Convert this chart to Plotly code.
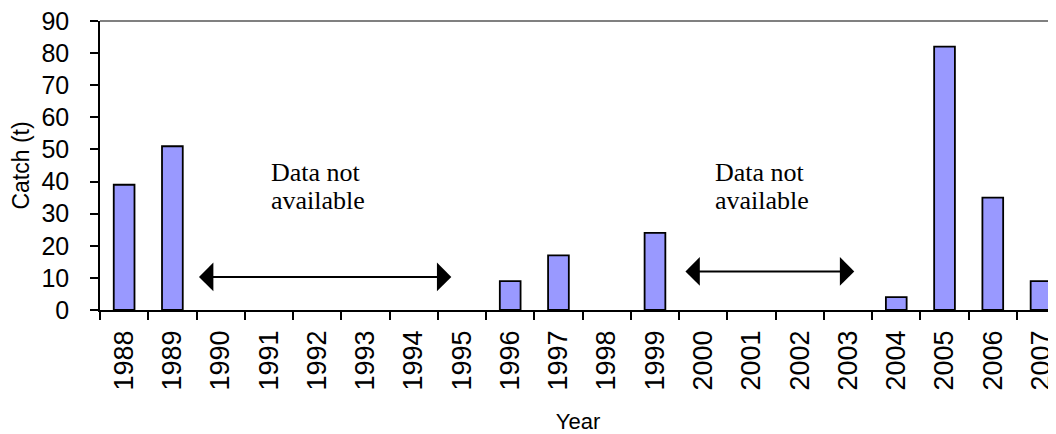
import plotly.graph_objects as go

years = [str(y) for y in range(1988, 2008)]
catch_t = [39, 51, None, None, None, None, None, None, 9, 17, None, 24,
           None, None, None, None, 4, 82, 35, 9]
y_ticks = list(range(0, 100, 10))
note_text = ["Data not", "available"]

SANS = "Arial, Liberation Sans, sans-serif"
SERIF = "Times New Roman, Liberation Serif, serif"

fig = go.Figure()
fig.add_trace(go.Bar(
    x=years, y=catch_t,
    marker=dict(color="#9999FF", line=dict(color="#000000", width=1.8)),
    hoverinfo="x+y",
))

# gap arrows (double-headed)
for x0, x1, yv in [(1.52, 6.78, 10.3), (11.6, 15.13, 12.0)]:
    fig.add_annotation(
        x=x1, y=yv, ax=x0, ay=yv, xref="x", yref="y", axref="x", ayref="y",
        showarrow=True, arrowhead=1, startarrowhead=1, arrowside="end+start",
        arrowsize=2.4, arrowwidth=2, arrowcolor="#000000", text="",
    )

# "Data not available" notes
for xl in [3.0, 12.21]:
    for i, (line, yv) in enumerate(zip(note_text, [37.6, 29.0])):
        fig.add_annotation(
            x=xl, y=yv, xref="x", yref="y", xanchor="left", yanchor="bottom",
            text=line, showarrow=False,
            font=dict(family=SERIF, size=26, color="#000000"),
        )

# grey top border
fig.add_shape(type="line", xref="paper", yref="paper", x0=0, x1=1, y0=1, y1=1,
              line=dict(color="#808080", width=2))

# page body adds an 8px offset, so the figure is sized to sit inside the window
fig.update_layout(
    width=1048, height=426,
    margin=dict(l=92, r=0, t=13, b=124),
    paper_bgcolor="white", plot_bgcolor="white",
    showlegend=False, bargap=0.57,
    font=dict(family=SANS, color="#000000"),
)
fig.update_xaxes(
    type="category", range=[-0.5, 19.31], tickson="boundaries",
    ticks="outside", ticklen=8, tickcolor="#000000", tickwidth=1.5,
    showline=True, linecolor="#000000", linewidth=1.5,
    tickangle=-90, tickfont=dict(family=SANS, size=27, color="#000000"),
    ticklabelstandoff=8, automargin=False, ticklabeloverflow="allow",
    showgrid=False, zeroline=False,
    title=dict(text="Year", font=dict(family=SANS, size=22), standoff=24),
)
fig.update_yaxes(
    range=[0, 90], tickvals=y_ticks, ticktext=[str(v) for v in y_ticks],
    ticks="outside", ticklen=8, tickcolor="#000000", tickwidth=1.5,
    showline=True, linecolor="#000000", linewidth=1.5,
    tickfont=dict(family=SANS, size=25, color="#000000"),
    ticklabelstandoff=16, automargin=False, ticklabeloverflow="allow",
    showgrid=False, zeroline=False,
    title=dict(text="Catch (t)", font=dict(family=SANS, size=23), standoff=9),
)

fig.write_html("out.html")
